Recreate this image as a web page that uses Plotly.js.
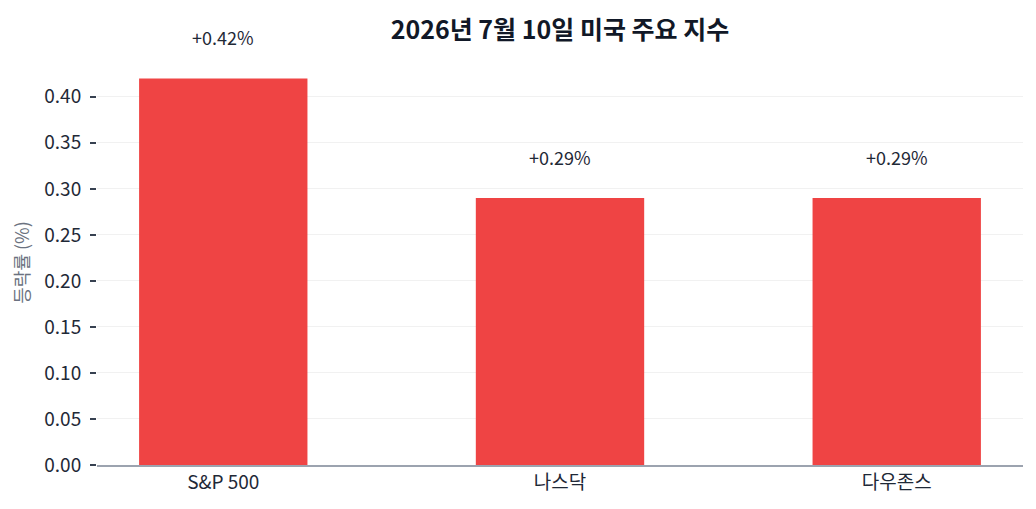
<!DOCTYPE html>
<html><head><meta charset="utf-8">
<script src="https://cdn.plot.ly/plotly-3.0.1.min.js"></script>
<style>html,body{margin:0;padding:0;background:#fff}#chart{width:1036px;height:509px}</style>
</head><body><div id="chart"></div>
<script>
const categories = ["S&P 500", "나스닥", "다우존스"];
const changes = [0.42, 0.29, 0.29];
const labels = ["+0.42%", "+0.29%", "+0.29%"];
const FONT = "'Noto Sans CJK KR', 'Noto Sans', sans-serif";

const trace = {
  type: "bar", x: categories, y: changes, width: 0.5,
  marker: {color: "#ef4444"}, hoverinfo: "skip"
};
const annotations = categories.map((c, i) => ({
  x: c, y: changes[i], text: labels[i], showarrow: false,
  yanchor: "bottom", yshift: 26, font: {size: 18, color: "#1f2937", family: FONT}
}));
const layout = {
  width: 1036, height: 509,
  margin: {l: 97, r: 13, t: 60, b: 44},
  paper_bgcolor: "#fff", plot_bgcolor: "#fff",
  font: {family: FONT, color: "#1f2937"},
  title: {text: "<b>2026년 7월 10일 미국 주요 지수</b>", x: 0.5, xref: "paper", xanchor: "center",
          y: 25, yref: "container", yanchor: "middle",
          font: {size: 25, color: "#111827", family: FONT}},
  xaxis: {type: "category", range: [-0.375, 2.375], showgrid: false, showline: true, linecolor: "#9ca3af", linewidth: 1.5,
          ticks: "", tickfont: {size: 19, color: "#1f2937"}, zeroline: false},
  yaxis: {range: [0, 0.44], dtick: 0.05, tickformat: ".2f", showgrid: true, gridcolor: "#f1f1f1",
          ticks: "outside", ticklen: 6, tickcolor: "#374151", tickwidth: 2, zeroline: false, showline: false,
          ticklabelstandoff: 5,
          tickfont: {size: 19, color: "#1f2937"},
          title: {text: "등락률 (%)", font: {size: 18, color: "#6b7280"}, standoff: 9}},
  annotations: annotations, showlegend: false
};
Plotly.newPlot("chart", [trace], layout, {displayModeBar: false, staticPlot: true});
</script></body></html>
